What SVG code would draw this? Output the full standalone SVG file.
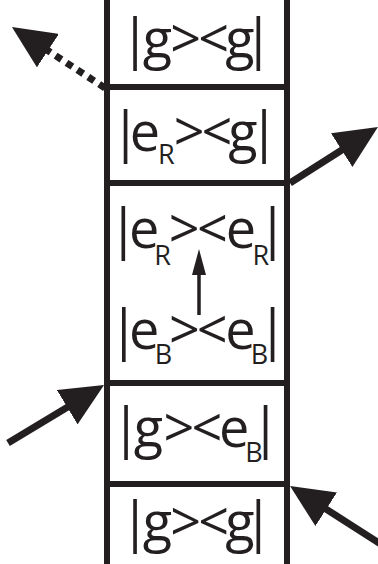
<svg xmlns="http://www.w3.org/2000/svg" width="378" height="564" viewBox="0 0 378 564">
<defs>
<style>
.rail{stroke:#231f20;stroke-width:6;fill:none}
.lbl{font-family:"Open Sans","Noto Sans",sans-serif;font-size:54px;fill:#231f20;text-anchor:middle}
.sub{font-size:27px}
.arr{stroke:#231f20;stroke-width:7;fill:none;marker-end:url(#head)}
.dot{stroke-dasharray:7 6}
.small{stroke:#231f20;stroke-width:3.5;fill:none;marker-end:url(#headS)}
</style>
<marker id="head" viewBox="0 0 43 40" refX="3" refY="20" markerWidth="43" markerHeight="40" markerUnits="userSpaceOnUse" orient="auto">
<path d="M0,0 L43,20 L0,40 Z" fill="#231f20"/>
</marker>
<marker id="headS" viewBox="0 0 26 14" refX="2" refY="7" markerWidth="26" markerHeight="14" markerUnits="userSpaceOnUse" orient="auto">
<path d="M0,0 L26,7 L0,14 Z" fill="#231f20"/>
</marker>
</defs>
<g id="ladder">
<line class="rail" x1="107" y1="0" x2="107" y2="564"/>
<line class="rail" x1="287" y1="0" x2="287" y2="564"/>
<line class="rail" x1="104" y1="87" x2="290" y2="87"/>
<line class="rail" x1="104" y1="183" x2="290" y2="183"/>
<line class="rail" x1="104" y1="383" x2="290" y2="383"/>
<line class="rail" x1="104" y1="484" x2="290" y2="484"/>
</g>
<g id="node-gg-top"><text class="lbl" x="135 157.5 185.8 213.8 240 258.3" y="58">|g&gt;&lt;g|</text></g>
<g id="node-eRg"><text class="lbl" y="151"><tspan x="125.7 145">|e</tspan><tspan class="sub" x="166.3" y="164">R</tspan><tspan x="189.2 217 243 264.2" y="151">&gt;&lt;g|</tspan></text></g>
<g id="node-eReR"><text class="lbl" y="248"><tspan x="123.3 144.2">|e</tspan><tspan class="sub" x="162.5" y="265">R</tspan><tspan x="184.2 212.5 240.8" y="248">&gt;&lt;e</tspan><tspan class="sub" x="260.8" y="265">R</tspan><tspan x="272.5" y="248">|</tspan></text></g>
<g id="node-eBeB"><text class="lbl" y="349"><tspan x="123.8 144.2">|e</tspan><tspan class="sub" x="163.5" y="364">B</tspan><tspan x="184.5 212.3 240.5" y="349">&gt;&lt;e</tspan><tspan class="sub" x="259.5" y="364">B</tspan><tspan x="272.5" y="349">|</tspan></text></g>
<g id="node-geB"><text class="lbl" y="447"><tspan x="126 148.5 179 207 234.2">|g&gt;&lt;e</tspan><tspan class="sub" x="254" y="462">B</tspan><tspan x="265.5" y="447">|</tspan></text></g>
<g id="node-gg-bottom"><text class="lbl" x="135 157.5 185.8 213.8 240 258.3" y="541">|g&gt;&lt;g|</text></g>
<g id="connectors">
<line class="arr dot" x1="105" y1="88" x2="45.4" y2="49"/>
<line class="arr" x1="290" y1="183" x2="344.2" y2="148.5"/>
<line class="arr" x1="8" y1="443" x2="69.8" y2="405.7"/>
<line class="arr" x1="382" y1="545" x2="323.7" y2="507.6"/>
<line class="small" x1="199" y1="315" x2="199" y2="273"/>
</g>
</svg>
